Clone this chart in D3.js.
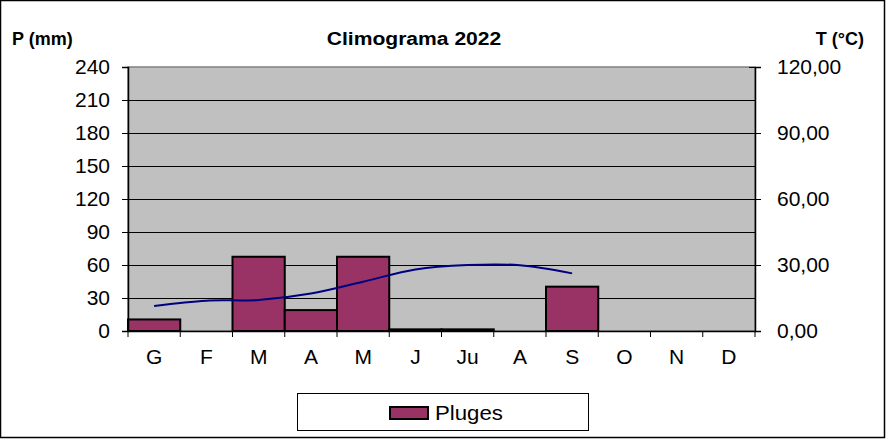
<!DOCTYPE html>
<html><head><meta charset="utf-8">
<script src="https://cdn.jsdelivr.net/npm/d3@7"></script>
<style>
html,body{margin:0;padding:0;background:#fff;}
svg{display:block;font-family:"Liberation Sans",Arial,sans-serif;}
</style></head>
<body><svg id="c" width="886" height="440"></svg>
<script>
const months = ["G","F","M","A","M","J","Ju","A","S","O","N","D"];
const precip = [10.5,0,67.5,19,67.5,1.5,1.5,0,40.3,0,0,0];
const temp = [11.4,13.8,14.1,17.0,22.4,28.0,30.0,29.9,26.2];
const leftTicks = [0,30,60,90,120,150,180,210,240];
const rightTicks = [0,30,60,90,120];

const svg = d3.select("#c");
const L=128,R=755,T=67,B=331;
const x = d3.scaleBand().domain(d3.range(months.length)).range([L,R]).padding(0);
const yL = d3.scaleLinear().domain([0,240]).range([B,T]);
const yR = d3.scaleLinear().domain([0,120]).range([B,T]);

// outer border
svg.append("rect").attr("x",0.5).attr("y",0.5).attr("width",884).attr("height",437)
  .attr("fill","#fff").attr("stroke","#000").attr("stroke-width",1.5);

// plot background
svg.append("rect").attr("x",L).attr("y",T).attr("width",R-L).attr("height",B-T)
  .attr("fill","#c0c0c0").attr("stroke","#808080").attr("stroke-width",1.5);

// gridlines
svg.append("g").selectAll("line").data(leftTicks.filter(v=>v>0&&v<240)).join("line")
  .attr("x1",L).attr("x2",R).attr("y1",d=>Math.round(yL(d))+0.5).attr("y2",d=>Math.round(yL(d))+0.5)
  .attr("stroke","#000").attr("stroke-width",1);

// bars
const bars = svg.append("g");
precip.forEach((d,i)=>{
  if(d<=0) return;
  bars.append("rect").attr("x",x(i)).attr("y",yL(d)).attr("width",x.bandwidth()).attr("height",yL(0)-yL(d))
    .attr("fill","#993366").attr("stroke","#000").attr("stroke-width",2);
});

// temperature line
const line = d3.line().x((d,i)=>x(i)+x.bandwidth()/2).y(d=>yR(d)).curve(d3.curveCatmullRom.alpha(0));
svg.append("path").datum(temp).attr("d",line).attr("fill","none")
  .attr("stroke","#000080").attr("stroke-width",2);

const FF = "Liberation Sans, Arial, sans-serif";
// left axis
const axL = svg.append("g").attr("transform",`translate(${L},0)`)
  .call(d3.axisLeft(yL).tickValues(leftTicks).tickSize(6).tickPadding(12));
axL.select(".domain").attr("stroke","#000").attr("stroke-width",1.5);
axL.selectAll(".tick line").attr("stroke","#000");
axL.selectAll("text").attr("font-size",21).attr("fill","#000").attr("font-family",FF);

// right axis
const axR = svg.append("g").attr("transform",`translate(${R},0)`)
  .call(d3.axisRight(yR).tickValues(rightTicks).tickSize(6).tickPadding(16)
     .tickFormat(d=>d3.format(".2f")(d).replace(".",",")));
axR.select(".domain").attr("stroke","#000").attr("stroke-width",1.5);
axR.selectAll(".tick line").attr("x1",-6).attr("stroke","#000");
axR.selectAll("text").attr("font-size",21).attr("fill","#000").attr("font-family",FF);

// bottom axis
const axB = svg.append("g").attr("transform",`translate(0,${B})`)
  .call(d3.axisBottom(x).tickSize(0).tickPadding(18).tickFormat(i=>months[i]));
axB.select(".domain").attr("stroke","#000").attr("stroke-width",1.5);
axB.selectAll("text").attr("font-size",21).attr("fill","#000").attr("font-family",FF);
axB.selectAll("line.sep").data(d3.range(months.length+1)).join("line").attr("class","sep")
  .attr("x1",i=>i<months.length?x(i):x(months.length-1)+x.bandwidth())
  .attr("x2",i=>i<months.length?x(i):x(months.length-1)+x.bandwidth())
  .attr("y1",0).attr("y2",6).attr("stroke","#000");

// titles
svg.append("text").attr("transform","translate(414,45) scale(1.14,1)").attr("text-anchor","middle")
  .attr("font-size",18.5).attr("font-weight","bold").text("Climograma 2022");
svg.append("text").attr("x",12).attr("y",45)
  .attr("font-size",18).attr("font-weight","bold").text("P (mm)");
svg.append("text").attr("x",864).attr("y",45).attr("text-anchor","end")
  .attr("font-size",18).attr("font-weight","bold").text("T (°C)");

// legend
const lg = svg.append("g");
lg.append("rect").attr("x",297.5).attr("y",393.5).attr("width",291).attr("height",37)
  .attr("fill","#fff").attr("stroke","#000").attr("stroke-width",1);
lg.append("rect").attr("x",390).attr("y",407).attr("width",38).attr("height",12)
  .attr("fill","#993366").attr("stroke","#000").attr("stroke-width",2);
lg.append("text").attr("transform","translate(435,420) scale(1.14,1)").attr("font-size",19.5).text("Pluges");
</script></body></html>
